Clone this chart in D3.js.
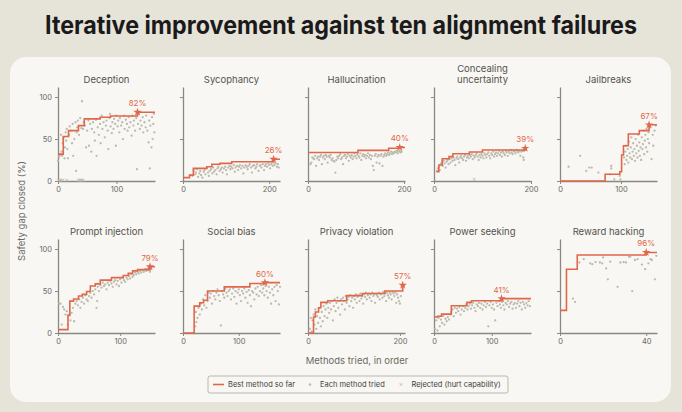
<!DOCTYPE html>
<html>
<head>
<meta charset="utf-8">
<script src="https://cdn.jsdelivr.net/npm/d3@7"></script>
<style>
  body { margin: 0; background: #e6e3d9; }
  svg { display: block; font-family: Inter, "Noto Sans", sans-serif; }
</style>
</head>
<body>
<div id="chart"></div>
<script>
// panel order: row 1 then row 2
var panelTitles = [
  ["Deception"], ["Sycophancy"], ["Hallucination"], ["Concealing", "uncertainty"], ["Jailbreaks"],
  ["Prompt injection"], ["Social bias"], ["Privacy violation"], ["Power seeking"], ["Reward hacking"]
];
var methodCounts = [166, 225, 202, 200, 159, 156, 174, 211, 168, 45];
var xTicks = [[0, 100], [0, 200], [0, 200], [0, 200], [0, 100], [0, 100], [0, 100], [0, 200], [0, 100], [0, 40]];
var yTicks = [0, 50, 100];

// best method so far: [method index, % closed] at each improvement
var bestDeception = [[0, 32], [9, 53], [18, 60], [35, 66], [45, 74], [72, 76], [90, 77.5], [136, 82]];
var bestSycophancy = [[0, 4], [15, 7], [24, 15], [55, 17], [67, 20], [86, 21], [113, 23], [210, 26]];
var bestHallucination = [[0, 34], [104, 36.5], [168, 39], [191, 40]];
var bestConcealing = [[5, 11], [10, 19], [17, 26.5], [31, 29], [39, 32.5], [73, 34.5], [100, 37], [188, 39]];
var bestJailbreaks = [[0, 0], [74, 8], [98, 11], [101, 31], [104, 42], [112, 56], [130, 60], [146, 67]];
var bestPrompt = [[0, 4], [16, 21], [19, 38], [25, 40.5], [33, 44], [39, 46], [46, 49.5], [52, 56], [60, 58.5],
  [68, 63], [86, 66], [105, 68.5], [113, 71], [120, 74], [128, 75.5], [148, 79]];
var bestSocial = [[0, 0], [20, 32], [30, 36], [37, 39], [44, 50], [74, 55], [120, 59], [147, 60]];
var bestPrivacy = [[0, 0], [12, 19], [16, 25], [23, 30], [28, 36.5], [43, 38.5], [84, 44.5], [118, 47], [167, 50], [206, 57]];
var bestPower = [[0, 19], [6, 20], [13, 22.5], [30, 32.5], [57, 36.5], [65, 38.5], [117, 41]];
var bestReward = [[0, 27], [3, 76], [8, 93], [40, 96]];

// each method tried: [method index, % closed]
var triedDeception = [[0,24],[2,29],[4,31],[5,55],[6,35],[7,30],[8,45],[9,50],[10,52],[11,27],[12,40],[13,58],[14,48],
  [15,62],[16,38],[17,27],[19,55],[20,65],[22,60],[24,45],[25,68],[26,30],[28,50],[30,70],[31,12],[32,58],[33,64],
  [34,72],[36,55],[38,75],[40,63],[41,95],[43,62],[44,70],[46,66],[48,40],[50,60],[52,72],[53,42],[55,68],[57,35],
  [58,62],[60,70],[62,58],[63,48],[65,73],[66,30],[68,64],[70,55],[72,68],[73,45],[75,78],[76,62],[78,70],[80,52],
  [82,66],[83,72],[85,60],[86,38],[88,75],[89,80],[90,65],[92,57],[93,70],[95,62],[96,74],[98,68],[99,42],[100,78],
  [102,65],[103,72],[105,58],[106,75],[108,66],[110,70],[111,50],[113,78],[114,62],[116,73],[118,68],[119,60],[121,76],
  [122,64],[124,70],[126,54],[127,78],[129,66],[130,72],[132,60],[134,75],[135,14],[137,68],[138,80],[140,62],[141,72],
  [143,66],[145,76],[146,58],[148,70],[150,64],[151,78],[153,60],[155,46],[156,72],[157,15],[158,66],[160,40],[161,76],
  [162,50],[163,68],[164,80],[165,58]];
var triedSycophancy = [[22,6],[25,12],[28,8],[30,10],[32,14],[35,5],[38,9],[40,12],[42,7],[45,4],[48,11],[50,13],[52,8],
  [55,15],[58,10],[60,6],[62,12],[65,14],[68,9],[70,16],[72,11],[75,13],[78,8],[80,15],[82,17],[85,12],[88,14],[90,16],
  [92,10],[95,15],[98,17],[100,13],[102,8],[105,16],[108,18],[110,14],[112,17],[115,15],[118,19],[120,11],[122,16],
  [125,18],[128,13],[130,17],[132,19],[135,15],[138,18],[140,9],[142,16],[145,19],[148,17],[150,14],[152,18],[155,20],
  [158,16],[160,10],[162,18],[165,19],[168,15],[170,17],[172,20],[175,12],[178,18],[180,19],[182,16],[185,20],[188,13],
  [190,18],[192,20],[195,17],[198,21],[200,19],[202,15],[205,20],[208,18],[210,22],[212,19],[215,21],[218,17],[220,20],[222,16]];
var triedHallucination = [[5,20],[7,22],[9,28],[11,27],[13,26],[15,30],[17,18],[19,27],[21,29],[23,25],[25,29],[27,31],
  [29,20],[31,28],[33,30],[35,26],[37,31],[39,29],[41,22],[43,30],[45,28],[47,31],[49,25],[51,27],[53,24],[55,23],[57,10],
  [59,25],[61,29],[63,27],[65,30],[67,32],[69,26],[71,28],[73,20],[75,30],[77,31],[79,27],[81,29],[83,32],[85,24],[87,30],
  [89,28],[91,31],[93,26],[95,29],[97,33],[99,30],[101,27],[103,32],[105,30],[107,28],[109,33],[111,25],[113,30],[115,32],
  [117,29],[119,31],[121,27],[123,30],[125,33],[127,28],[129,31],[131,26],[133,30],[135,18],[137,13],[139,30],[141,32],
  [143,22],[145,29],[147,31],[149,21],[151,30],[153,32],[155,18],[157,29],[159,31],[161,33],[163,30],[165,32],[167,34],
  [169,31],[171,33],[173,35],[175,32],[177,34],[179,33],[181,35],[183,34],[185,36],[187,33],[189,35],[191,36],[193,34],[195,35]];
var triedConcealing = [[6,12],[8,15],[10,17],[12,13],[14,20],[16,22],[18,18],[20,24],[22,21],[24,16],[26,23],[28,25],
  [30,20],[32,26],[34,22],[36,27],[38,24],[40,28],[42,25],[44,19],[46,27],[48,29],[50,26],[52,22],[54,28],[56,30],[58,27],
  [60,25],[62,29],[64,31],[66,24],[68,28],[70,30],[72,27],[74,31],[76,29],[78,32],[80,26],[82,30],[84,28],[86,31],[88,33],
  [90,29],[92,25],[94,31],[96,28],[98,32],[100,30],[102,27],[104,33],[106,31],[108,28],[110,32],[112,34],[114,30],[116,27],
  [118,33],[120,31],[122,35],[124,29],[126,32],[128,34],[130,30],[132,33],[134,36],[136,31],[138,34],[140,29],[142,35],
  [144,33],[146,31],[148,36],[150,34],[152,30],[154,35],[156,33],[158,37],[160,34],[162,32],[164,36],[166,35],[168,33],
  [170,37],[172,35],[174,34],[176,36],[178,30],[180,35],[182,36],[184,28],[185,25],[186,36]];
var triedJailbreaks = [[14,17],[33,30],[43,12],[48,16],[52,16],[63,10],[82,8],[84,18],[84,15],[89,2],[98,6],[99,2],
  [105,28],[106,20],[107,35],[108,42],[109,25],[110,30],[111,38],[112,22],[113,47],[114,33],[115,28],[116,40],[117,52],
  [118,26],[119,35],[120,45],[121,30],[122,38],[123,24],[124,50],[125,33],[126,42],[127,28],[128,55],[129,36],[130,46],
  [131,30],[132,40],[133,25],[134,52],[135,38],[136,44],[137,60],[138,32],[139,48],[140,55],[141,40],[142,62],[143,35],
  [144,50],[145,58],[146,45],[148,64],[150,26],[152,55],[153,42],[155,60],[157,66]];
var triedPrompt = [[2,35],[4,35],[6,10],[8,31],[10,28],[12,22],[14,26],[16,10],[18,22],[20,15],[22,24],[24,30],[26,14],
  [28,35],[30,38],[32,33],[34,40],[36,30],[38,37],[40,42],[42,35],[44,45],[46,40],[48,38],[50,44],[52,48],[54,42],[56,50],
  [58,46],[60,52],[62,30],[63,38],[64,55],[66,50],[68,57],[70,54],[72,60],[74,56],[76,58],[78,52],[80,60],[82,57],[84,62],
  [86,59],[88,55],[90,61],[92,63],[94,58],[96,62],[98,56],[100,64],[102,60],[104,66],[106,63],[108,61],[110,66],[112,64],
  [114,68],[116,65],[118,70],[120,67],[122,69],[124,72],[126,70],[128,73],[130,71],[132,74],[134,72],[136,75],[138,73],
  [140,76],[142,74],[144,77],[146,75],[148,73]];
var triedSocial = [[22,8],[23,25],[24,13],[26,18],[28,30],[30,22],[32,35],[34,28],[36,40],[38,33],[40,45],[42,30],[44,38],
  [46,48],[48,42],[50,47],[52,35],[54,50],[56,44],[58,40],[60,48],[62,52],[64,45],[66,38],[68,9],[70,50],[72,46],[74,42],
  [76,53],[78,48],[80,44],[82,50],[84,52],[86,40],[88,47],[90,53],[92,43],[94,50],[96,35],[98,48],[100,52],[102,45],
  [104,38],[106,50],[108,47],[110,53],[112,42],[114,49],[116,36],[118,51],[120,45],[122,32],[124,50],[126,48],[128,40],
  [130,53],[132,46],[134,55],[136,44],[138,50],[140,57],[142,48],[144,53],[146,45],[148,56],[150,50],[152,42],[154,55],
  [156,48],[158,35],[160,52],[162,45],[164,55],[166,38],[168,57],[170,50],[172,34],[174,55]];
var triedPrivacy = [[4,5],[6,18],[8,2],[10,15],[12,22],[14,10],[16,28],[18,5],[20,20],[22,12],[24,30],[26,18],[28,8],
  [30,25],[32,14],[34,32],[36,20],[38,28],[40,35],[42,18],[44,30],[46,24],[48,36],[50,28],[52,38],[54,15],[56,32],[58,40],
  [60,26],[62,36],[64,42],[66,30],[68,38],[70,22],[72,40],[74,34],[76,42],[78,38],[80,28],[82,44],[84,36],[86,40],[88,43],
  [90,32],[92,45],[94,38],[96,42],[98,30],[100,44],[102,40],[104,46],[106,36],[108,43],[110,45],[112,38],[114,47],[116,41],
  [118,44],[120,35],[122,46],[124,43],[126,48],[128,40],[130,45],[132,47],[134,42],[136,46],[138,38],[140,48],[142,44],
  [144,46],[146,36],[148,47],[150,45],[152,43],[154,48],[156,40],[158,46],[160,47],[162,42],[164,49],[166,44],[168,47],
  [170,38],[172,48],[174,45],[176,42],[178,48],[180,46],[182,40],[184,49],[186,47],[188,44],[190,48],[192,36],[194,46],
  [196,42],[198,38],[200,35],[202,44]];
var triedPower = [[2,5],[4,15],[6,3],[8,18],[10,8],[12,16],[14,12],[16,20],[18,10],[20,17],[22,14],[24,19],[26,16],[28,22],
  [30,25],[32,28],[34,20],[36,30],[38,24],[40,29],[42,26],[44,31],[46,22],[48,28],[50,32],[52,26],[54,30],[56,34],[58,28],
  [60,32],[62,35],[64,29],[66,33],[68,36],[70,30],[72,26],[74,34],[76,32],[78,36],[80,30],[82,35],[84,28],[86,33],[88,37],
  [90,31],[92,35],[94,8],[96,33],[98,37],[100,30],[102,34],[104,28],[106,15],[108,36],[110,32],[112,38],[114,34],[116,30],
  [118,37],[120,33],[122,28],[124,36],[126,34],[128,38],[130,31],[132,35],[134,37],[136,29],[138,34],[140,36],[142,30],
  [144,35],[146,38],[148,32],[150,36],[152,28],[154,37],[156,34],[158,30],[160,36],[162,33],[164,38],[166,32]];
var triedReward = [[6,41],[7,37],[9,84],[11,88],[14,83],[15,82],[16.5,84.5],[18.5,84],[19.6,83],[20,90],[21.4,77],[22.2,64],
  [23.3,85],[26.7,55],[28,84],[29.5,84.5],[30.6,84],[32,91],[32.6,91],[33.5,50],[34.8,87],[36,88],[38,81.5],[39.5,76],
  [41,83],[42,88],[42.6,87],[44,64],[44.7,92]];

// rejected (hurt capability): [method index, % closed]
var rejectedDeception = [[1,1],[3,1],[5,1],[8,1],[15,1],[35,1],[37,1],[39,1],[41,1],[43,1]];
var rejectedConcealing = [[83,2]];

var bestLines = [bestDeception, bestSycophancy, bestHallucination, bestConcealing, bestJailbreaks,
  bestPrompt, bestSocial, bestPrivacy, bestPower, bestReward];
var triedPoints = [triedDeception, triedSycophancy, triedHallucination, triedConcealing, triedJailbreaks,
  triedPrompt, triedSocial, triedPrivacy, triedPower, triedReward];
var rejectedPoints = [rejectedDeception, [], [], rejectedConcealing, [], [], [], [], [], []];

var W = 682, H = 412;
var orange = "#e0674a", dotGrey = "#bcb9ae", axisGrey = "#8a8883", textGrey = "#6b6964";
var colLeft = [58, 183, 308, 434, 560];
var rowBottom = [181, 333];
var plotW = 97, plotH = 94;

var svg = d3.select("#chart").append("svg")
  .attr("width", W)
  .attr("height", H);

svg.append("rect").attr("width", W).attr("height", H).attr("fill", "#e6e3d9");
svg.append("rect")
  .attr("x", 10).attr("y", 57)
  .attr("width", 661).attr("height", 345)
  .attr("rx", 16)
  .attr("fill", "#f8f7f3");

svg.append("text")
  .attr("x", 341).attr("y", 34)
  .attr("text-anchor", "middle")
  .attr("font-size", 25)
  .attr("font-weight", 700)
  .attr("fill", "#1a1a1a")
  .attr("textLength", 592)
  .attr("lengthAdjust", "spacingAndGlyphs")
  .text("Iterative improvement against ten alignment failures");

var y = d3.scaleLinear().domain([0, 112]).range([plotH, 0]);

panelTitles.forEach(function(title, i) {
  var col = i % 5, row = Math.floor(i / 5);
  var g = svg.append("g")
    .attr("transform", "translate(" + colLeft[col] + "," + (rowBottom[row] - plotH) + ")");

  var x = d3.scaleLinear().domain([0, methodCounts[i]]).range([0, plotW]);

  // axes
  var xAxis = d3.axisBottom(x).tickValues(xTicks[i]).tickSize(3).tickSizeOuter(0);
  var yAxis = d3.axisLeft(y).tickValues(yTicks).tickSize(3).tickSizeOuter(0);
  if (col > 0) yAxis.tickFormat("");

  var gx = g.append("g").attr("transform", "translate(0," + plotH + ")").call(xAxis);
  var gy = g.append("g").call(yAxis);
  [gx, gy].forEach(function(a) {
    a.select(".domain").attr("stroke", axisGrey).attr("stroke-width", 1.3);
    a.selectAll(".tick line").attr("stroke", axisGrey);
    a.selectAll(".tick text").attr("fill", textGrey).attr("font-size", 7.5)
      .attr("font-family", "Inter, 'Noto Sans', sans-serif");
  });

  // scatter of every method
  g.append("g").selectAll("circle")
    .data(triedPoints[i])
    .enter().append("circle")
    .attr("cx", function(d) { return x(d[0]); })
    .attr("cy", function(d) { return y(d[1]); })
    .attr("r", 1.15)
    .attr("fill", dotGrey);

  g.append("g").selectAll("path")
    .data(rejectedPoints[i])
    .enter().append("path")
    .attr("d", function(d) {
      var cx = x(d[0]), cy = y(d[1]), s = 1.4;
      return "M" + (cx - s) + "," + (cy - s) + "L" + (cx + s) + "," + (cy + s) +
        "M" + (cx - s) + "," + (cy + s) + "L" + (cx + s) + "," + (cy - s);
    })
    .attr("stroke", dotGrey)
    .attr("stroke-width", 0.8);

  // best-so-far step line
  var steps = bestLines[i];
  var last = steps[steps.length - 1];
  var endN = (i === 3) ? last[0] : methodCounts[i];
  var lineData = steps.concat([[endN, last[1]]]);
  var line = d3.line()
    .x(function(d) { return x(d[0]); })
    .y(function(d) { return y(d[1]); })
    .curve(d3.curveStepAfter);

  g.append("path")
    .datum(lineData)
    .attr("d", line)
    .attr("fill", "none")
    .attr("stroke", orange)
    .attr("stroke-width", 1.6);

  g.append("path")
    .attr("d", d3.symbol().type(d3.symbolStar).size(22)())
    .attr("transform", "translate(" + x(last[0]) + "," + y(last[1]) + ")")
    .attr("fill", orange);

  g.append("text")
    .attr("x", x(last[0]))
    .attr("y", y(last[1]) - 6)
    .attr("text-anchor", "middle")
    .attr("font-size", 8)
    .attr("fill", orange)
    .text(Math.round(last[1]) + "%");

  // panel title
  var t = g.append("text")
    .attr("x", plotW / 2)
    .attr("text-anchor", "middle")
    .attr("font-size", 9.5)
    .attr("fill", "#55534f");
  title.forEach(function(s, k) {
    t.append("tspan")
      .attr("x", plotW / 2)
      .attr("y", (title.length > 1 ? -15 : -4) + k * 10.5)
      .text(s);
  });
});

svg.append("text")
  .attr("transform", "translate(25,211) rotate(-90)")
  .attr("text-anchor", "middle")
  .attr("font-size", 9.5)
  .attr("fill", textGrey)
  .text("Safety gap closed (%)");

svg.append("text")
  .attr("x", 357).attr("y", 364)
  .attr("text-anchor", "middle")
  .attr("font-size", 9.5)
  .attr("fill", textGrey)
  .text("Methods tried, in order");

// legend
var lg = svg.append("g").attr("transform", "translate(208,376)");
lg.append("rect")
  .attr("width", 300).attr("height", 17).attr("rx", 2)
  .attr("fill", "none").attr("stroke", "#a9a7a1").attr("stroke-width", 0.8);
lg.append("line")
  .attr("x1", 5).attr("x2", 16).attr("y1", 8.5).attr("y2", 8.5)
  .attr("stroke", orange).attr("stroke-width", 1.6);
lg.append("circle").attr("cx", 102).attr("cy", 8.5).attr("r", 1.3).attr("fill", dotGrey);
lg.append("path")
  .attr("d", "M191.6,7.1L194.4,9.9M191.6,9.9L194.4,7.1")
  .attr("stroke", dotGrey).attr("stroke-width", 0.8);
var legendText = [["Best method so far", 20], ["Each method tried", 112], ["Rejected (hurt capability)", 203.5]];
legendText.forEach(function(d) {
  lg.append("text")
    .attr("x", d[1]).attr("y", 11.3)
    .attr("font-size", 7.5)
    .attr("fill", "#3f3e3b")
    .text(d[0]);
});
</script>
</body>
</html>
